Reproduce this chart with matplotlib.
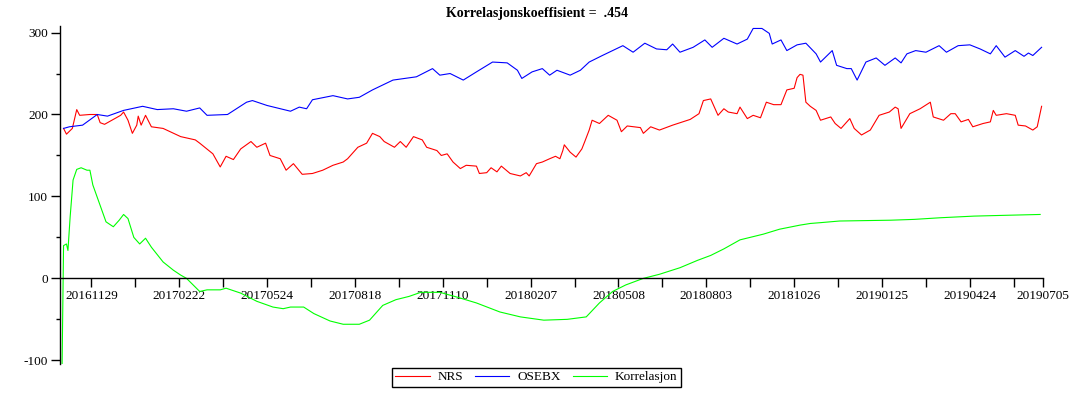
import matplotlib
matplotlib.use("Agg")
import matplotlib.pyplot as plt
from matplotlib.ticker import MultipleLocator

plt.rcParams['font.family'] = ['Liberation Serif', 'DejaVu Serif']
plt.rcParams['axes.unicode_minus'] = False

# trading day index -> value
osebx_day = [1, 5, 14, 24, 31, 42, 55, 65, 76, 85, 94, 99, 113, 126, 130, 140, 156, 162, 167, 171,
             185, 195, 203, 212, 226, 242, 253, 258, 265, 274, 283, 294, 304, 311, 314, 321, 328, 333,
             338, 347, 354, 360, 369, 376, 383, 390, 398, 406, 413, 417, 422, 431, 439, 444, 452, 461,
             468, 472, 478, 483, 485, 491, 495, 502, 508, 515, 518, 526, 529, 536, 539, 543, 549, 556,
             562, 569, 573, 577, 583, 590, 599, 604, 612, 620, 627, 634, 638, 644, 651, 657, 660, 663, 669]
osebx_val = [183, 185, 187, 200, 198, 205, 210, 206, 207, 204, 208, 199, 200, 215, 217, 211, 204, 209, 207, 218,
             223, 219, 221, 230, 242, 246, 256, 248, 250, 242, 252, 264, 263, 254, 244, 252, 256, 248,
             254, 248, 254, 264, 272, 278, 284, 276, 287, 280, 279, 286, 276, 282, 291, 282, 293, 286,
             292, 305, 305, 299, 286, 291, 278, 285, 287, 274, 264, 278, 260, 256, 256, 242, 264, 269,
             260, 269, 263, 274, 278, 276, 284, 276, 284, 285, 280, 274, 284, 270, 278, 271, 275, 272, 282]

nrs_day = [1, 3, 7, 10, 12, 19, 24, 26, 29, 40, 42, 45, 48, 51, 52, 54, 57, 61, 69, 81, 91, 94, 103, 108,
           112, 117, 122, 129, 133, 139, 142, 149, 153, 158, 164, 171, 178, 185, 192, 195, 202, 208, 212,
           217, 220, 227, 231, 235, 240, 246, 249, 256, 259, 263, 267, 272, 276, 283, 285, 290, 293, 297,
           300, 306, 313, 317, 319, 324, 328, 333, 337, 340, 342, 343, 347, 351, 355, 357, 360, 362, 367,
           373, 379, 382, 386, 395, 397, 402, 408, 417, 429, 435, 438, 443, 448, 452, 455, 461, 463, 468,
           472, 477, 481, 486, 491, 495, 500, 502, 504, 506, 508, 511, 515, 518, 525, 528, 532, 538, 541,
           546, 552, 558, 565, 569, 571, 573, 579, 586, 593, 595, 602, 607, 610, 614, 619, 622, 629, 634,
           636, 638, 645, 651, 653, 658, 663, 666, 669]
nrs_val = [183, 176, 183, 206, 199, 200, 200, 190, 188, 199, 203, 193, 177, 187, 198, 187, 199, 185, 183, 173, 169, 165, 152, 136,
           149, 145, 158, 167, 160, 165, 150, 146, 132, 140, 127, 128, 132, 138, 142, 146, 160, 165, 177,
           173, 167, 160, 167, 160, 173, 169, 160, 156, 150, 152, 142, 134, 138, 137, 128, 129, 135, 130,
           137, 128, 125, 129, 125, 140, 142, 146, 149, 146, 156, 163, 154, 148, 158, 167, 181, 193, 189,
           199, 193, 179, 186, 184, 177, 185, 181, 187, 194, 201, 217, 219, 199, 207, 203, 201, 209, 195,
           199, 196, 215, 212, 212, 230, 232, 245, 249, 248, 215, 210, 205, 193, 197, 189, 183, 195, 183,
           175, 181, 199, 203, 209, 207, 183, 201, 207, 215, 197, 193, 201, 201, 191, 194, 185, 189, 191,
           205, 199, 201, 199, 187, 186, 181, 185, 210]

korr_day = [0, 1, 3, 4, 5.5, 7.5, 10, 13, 17, 19, 21, 26, 30, 35, 39, 42, 45, 49, 53, 57, 61, 69, 76, 81,
            85, 94, 99, 108, 112, 122, 133, 144, 151, 156, 165, 172, 183, 192, 203, 210, 219, 228, 237,
            245, 258, 270, 283, 299, 313, 329, 345, 358, 367, 376, 385, 397, 408, 422, 434, 443, 452, 463,
            479, 490, 504, 511, 518, 531, 566, 582, 600, 623, 645, 668]
korr_val = [-105, 40, 42, 34, 75, 120, 133, 135, 132, 132, 114, 89, 69, 63, 71, 78, 73, 50, 42, 49, 38, 20, 10, 4,
            0, -16, -14, -14, -12, -18, -28, -35, -37, -35, -35, -43, -52, -56, -56, -51, -33, -26, -22,
            -17, -17, -23, -30, -41, -47, -51, -50, -47, -30, -16, -8, 0, 5, 13, 22, 28, 36, 47,
            54, 60, 65, 67, 68, 70, 71, 72, 74, 76, 77, 78]

tick_days = [20, 80, 140, 200, 260, 320, 380, 440, 500, 560, 620, 670]
tick_labels = ['20161129', '20170222', '20170524', '20170818', '20171110', '20180207',
               '20180508', '20180803', '20181026', '20190125', '20190424', '20190705']
blank_days = [50, 110, 170, 230, 290, 350, 410, 470, 530, 590, 650]

fig = plt.figure(figsize=(10.74, 4.0), dpi=100)
ax = fig.add_axes([0.0559, 0.09, 0.9153, 0.845])

l1, = ax.plot(nrs_day, nrs_val, color='#ff0000', lw=0.8, label='NRS')
l2, = ax.plot(osebx_day, osebx_val, color='#0000ff', lw=0.8, label='OSEBX')
l3, = ax.plot(korr_day, korr_val, color='#00ff00', lw=0.8, label='Korrelasjon')

ax.set_xlim(-1.4, 670)
ax.set_ylim(-104.5, 308)

ax.spines['top'].set_visible(False)
ax.spines['right'].set_visible(False)
ax.spines['bottom'].set_position(('data', 0))
ax.spines['left'].set_linewidth(1)
ax.spines['bottom'].set_linewidth(1)

ax.set_xticks(tick_days + blank_days)
ax.set_xticklabels(tick_labels + [''] * len(blank_days))
ax.tick_params(axis='x', direction='out', length=6.5, width=1, labelsize=9.5, pad=2)

ax.yaxis.set_major_locator(MultipleLocator(100))
ax.yaxis.set_minor_locator(MultipleLocator(50))
ax.tick_params(axis='y', which='major', direction='out', length=6.5, width=1, labelsize=9.5, pad=2)
ax.tick_params(axis='y', which='minor', direction='out', length=3, width=1)

fig.text(0.5, 0.965, 'Korrelasjonskoeffisient =  .454', ha='center', va='center',
         fontsize=10, fontweight='bold')

leg = fig.legend(handles=[l1, l2, l3], loc='center', bbox_to_anchor=(0.4995, 0.057), ncol=3,
                 fontsize=9.5, fancybox=False, edgecolor='black', framealpha=1,
                 handlelength=2.6, handletextpad=0.6, columnspacing=0.9, borderpad=0.25,
                 borderaxespad=0)
leg.get_frame().set_linewidth(1)

fig.savefig('out.png', dpi=100)
